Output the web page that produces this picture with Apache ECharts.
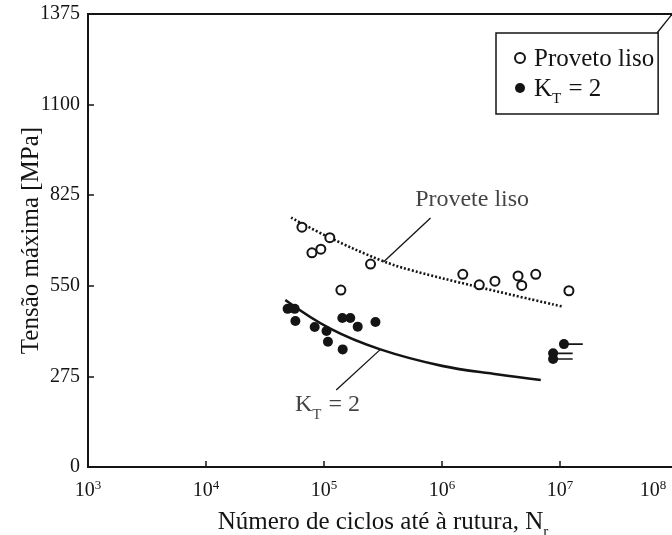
<!DOCTYPE html>
<html>
<head>
<meta charset="utf-8">
<script src="https://cdn.jsdelivr.net/npm/echarts@6/dist/echarts.min.js"></script>
<style>html,body{margin:0;padding:0;background:#fff}#c{width:672px;height:535px}</style>
</head>
<body>
<div id="c"></div>
<script>
// ---- data ----
const yTicks = [0, 275, 550, 825, 1100, 1375];
const xMin = 1e3, xMax = 1e8;

// Provete liso (open circles)
const lisoN = [6.5e4, 7.9e4, 9.4e4, 1.12e5, 1.39e5, 2.48e5, 1.5e6, 2.07e6, 2.81e6, 4.41e6, 4.74e6, 6.23e6, 1.19e7];
const lisoS = [728, 650, 661, 696, 537, 616, 585, 553, 564, 580, 551, 585, 535];

// K_T = 2 (filled circles)
const ktN = [4.92e4, 5.64e4, 5.72e4, 8.34e4, 1.05e5, 1.08e5, 1.43e5, 1.44e5, 1.67e5, 1.93e5, 2.73e5];
const ktS = [480, 480, 443, 425, 413, 380, 452, 357, 452, 426, 440];
// run-outs (no failure) for K_T = 2
const runoutN = [1.08e7, 8.74e6, 8.74e6];
const runoutS = [373, 345, 328];
const runoutEndN = [1.56e7, 1.28e7, 1.28e7];

// fitted curves
const lisoCurveN = [5.26e4, 1.12e5, 3.01e5, 5.41e5, 2.0e6, 1.05e7];
const lisoCurveS = [757, 696, 628, 598, 547, 487];
const ktCurveN = [4.70e4, 1.13e5, 3.0e5, 1.0e6, 3.0e6, 6.87e6];
const ktCurveS = [507, 420, 357, 307, 281, 264];

// annotations (label position + leader line ends)
const lisoLabel = {n: 1.80e6, s: 813};
const lisoLeader = {n: [8.0e5, 3.19e5], s: [756, 622]};
const ktLabel = {n: 1.07e5, s: 191};
const ktLeader = {n: [3.01e5, 1.27e5], s: [357, 234]};

// ---- chart ----
const FONT = 'Liberation Serif';
const INK = '#141414';
const zip = (a, b) => a.map((v, i) => [v, b[i]]);

const chart = echarts.init(document.getElementById('c'), null, {renderer: 'canvas'});

const series = [
  {
    name: 'Proveto liso', type: 'scatter', data: zip(lisoN, lisoS),
    symbol: 'circle', symbolSize: 9,
    itemStyle: {color: '#fff', borderColor: INK, borderWidth: 2, opacity: 1}, z: 5
  },
  {
    name: 'K_T = 2', type: 'scatter', data: zip(ktN.concat(runoutN), ktS.concat(runoutS)),
    symbol: 'circle', symbolSize: 10,
    itemStyle: {color: INK, opacity: 1}, z: 5
  },
  {
    type: 'line', data: zip(lisoCurveN, lisoCurveS), smooth: 0.4, showSymbol: false, silent: true,
    lineStyle: {color: INK, width: 2.6, type: [2, 2]}
  },
  {
    type: 'line', data: zip(ktCurveN, ktCurveS), smooth: 0.4, showSymbol: false, silent: true,
    lineStyle: {color: INK, width: 2.6}
  },
  {
    type: 'line', data: zip(lisoLeader.n, lisoLeader.s), showSymbol: false, silent: true,
    lineStyle: {color: INK, width: 1.3}
  },
  {
    type: 'line', data: zip(ktLeader.n, ktLeader.s), showSymbol: false, silent: true,
    lineStyle: {color: INK, width: 1.3}
  },
  {
    type: 'scatter', silent: true, symbolSize: 0,
    data: [
      {value: [lisoLabel.n, lisoLabel.s], label: {formatter: '{a|Provete liso}'}},
      {value: [ktLabel.n, ktLabel.s], label: {formatter: '{a|K}{s|T}{a| = 2}'}}
    ],
    label: {
      show: true, position: 'inside', color: INK,
      rich: {
        a: {fontFamily: FONT, fontSize: 24, color: INK, lineHeight: 26, verticalAlign: 'bottom'},
        s: {fontFamily: FONT, fontSize: 15, color: INK, lineHeight: 15, verticalAlign: 'bottom', padding: [0, 1, -5, 0]}
      }
    }
  }
];
runoutN.forEach((n, i) => {
  series.push({
    type: 'line', data: [[n, runoutS[i]], [runoutEndN[i], runoutS[i]]], showSymbol: false, silent: true,
    lineStyle: {color: INK, width: 1.6}
  });
});

chart.setOption({
  animation: false,
  backgroundColor: '#fff',
  grid: {left: 88, top: 14, width: 590, height: 453, show: true, borderColor: INK, borderWidth: 2,
    backgroundColor: 'transparent', containLabel: false, outerBoundsMode: 'none'},
  legend: {
    data: ['Proveto liso', 'K_T = 2'],
    orient: 'vertical', left: 496, top: 33,
    padding: [14, 4, 7, 18],
    itemGap: 5, itemWidth: 10, itemHeight: 10,
    borderColor: INK, borderWidth: 1.5, backgroundColor: '#fff',
    formatter: name => name === 'K_T = 2' ? '{f|K}{s|T}{a| = 2}' : '{f|' + name + '}',
    textStyle: {
      color: INK,
      rich: {
        f: {fontFamily: FONT, fontSize: 25, color: INK, lineHeight: 28, verticalAlign: 'bottom', padding: [0, 0, 0, 4]},
        a: {fontFamily: FONT, fontSize: 25, color: INK, lineHeight: 28, verticalAlign: 'bottom'},
        s: {fontFamily: FONT, fontSize: 15, color: INK, lineHeight: 15, verticalAlign: 'bottom', padding: [0, 1, -5, 0]}
      }
    }
  },
  xAxis: {
    type: 'log', logBase: 10, min: xMin, max: xMax,
    name: '{a|Número de ciclos até à rutura, N}{s|r}', nameLocation: 'middle', nameGap: 40,
    nameTextStyle: {
      color: INK, fontFamily: FONT, fontSize: 25,
      rich: {
        a: {fontFamily: FONT, fontSize: 25, color: INK, lineHeight: 28, verticalAlign: 'bottom'},
        s: {fontFamily: FONT, fontSize: 15, color: INK, lineHeight: 15, verticalAlign: 'bottom', padding: [0, 0, -5, 0]}
      }
    },
    axisLine: {lineStyle: {color: INK, width: 2}},
    axisTick: {inside: true, length: 6, lineStyle: {color: INK, width: 1.5}},
    splitLine: {show: false},
    minorTick: {show: false},
    axisLabel: {
      margin: 12, color: INK,
      formatter: v => {
        const e = Math.round(Math.log10(v));
        return v >= xMax ? '{b|10}{pe|' + e + '}' : '{b|10}{p|' + e + '}';
      },
      rich: {
        b: {fontFamily: FONT, fontSize: 20, color: INK},
        p: {fontFamily: FONT, fontSize: 13, color: INK, padding: [0, 0, 10, 0]},
        pe: {fontFamily: FONT, fontSize: 13, color: INK, padding: [0, 50, 10, 0]}
      }
    }
  },
  yAxis: {
    type: 'value', min: 0, max: 1375, interval: 275,
    name: 'Tensão máxima [MPa]', nameLocation: 'middle', nameGap: 44, nameMoveOverlap: false,
    nameTextStyle: {fontFamily: FONT, fontSize: 25, color: INK},
    axisLine: {show: true, lineStyle: {color: INK, width: 2}},
    axisTick: {show: true, inside: true, length: 6, lineStyle: {color: INK, width: 1.5}},
    splitLine: {show: false},
    axisLabel: {margin: 8, fontFamily: FONT, fontSize: 20, color: INK,
      formatter: v => yTicks.indexOf(v) >= 0 ? String(v) : ''}
  },
  graphic: [
    {type: 'line', shape: {x1: 657, y1: 33, x2: 677, y2: 8}, style: {stroke: INK, lineWidth: 1.3}, z: 10}
  ],
  series: series
});
</script>
</body>
</html>
